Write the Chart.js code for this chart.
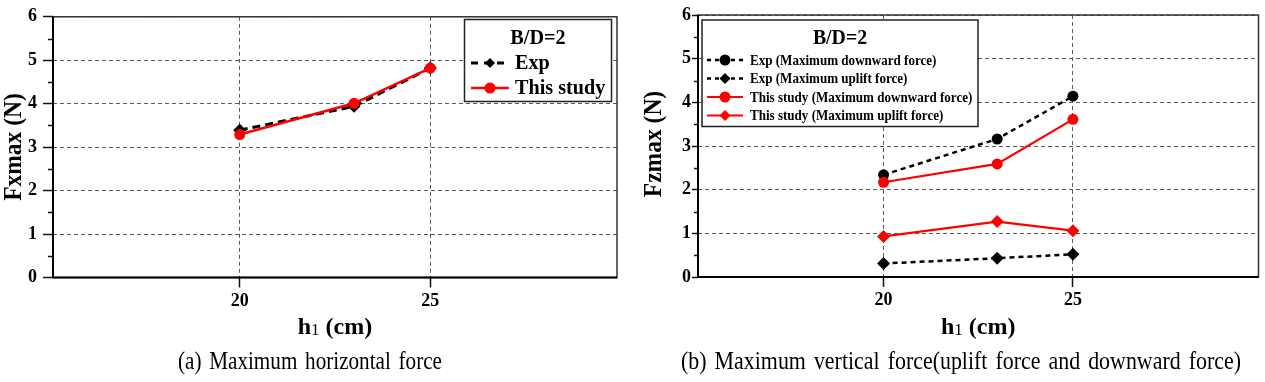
<!DOCTYPE html>
<html><head><meta charset="utf-8">
<script src="https://cdn.jsdelivr.net/npm/chart.js@4.4.0/dist/chart.umd.min.js"></script>
<style>
html,body{margin:0;padding:0;background:#fff;}
#wrap{position:relative;width:1265px;height:382px;overflow:hidden;background:#fff;}
.cv{position:absolute;top:0;}
.cap{position:absolute;top:345px;font-family:'Liberation Serif','Times New Roman',serif;font-size:26px;line-height:32px;word-spacing:3px;white-space:pre;color:#000;transform-origin:0 0;}
</style></head>
<body><div id="wrap">
<canvas id="c1" class="cv" width="640" height="382" style="left:0"></canvas>
<canvas id="c2" class="cv" width="625" height="382" style="left:640px"></canvas>
<div id="capA" class="cap"></div>
<div id="capB" class="cap"></div>
</div>
<script>
// ---------- data ----------
const hValues = [20, 23, 25];
const fxExp = [3.39, 3.94, 4.82];
const fxThisStudy = [3.29, 4.01, 4.82];
const fzExpDownward = [2.34, 3.16, 4.14];
const fzExpUplift = [0.31, 0.43, 0.52];
const fzThisDownward = [2.17, 2.59, 3.61];
const fzThisUplift = [0.93, 1.27, 1.06];
const xTickValues = [20, 25];
const yTickValues = [0, 1, 2, 3, 4, 5, 6];
const yMinorValues = [0.5, 1.5, 2.5, 3.5, 4.5, 5.5];
const labelsA = ['Exp', 'This study'];
const labelsB = ['Exp (Maximum downward force)', 'Exp (Maximum uplift force)',
                 'This study (Maximum downward force)', 'This study (Maximum uplift force)'];
const legendTitle = 'B/D=2';
const yTitleA = 'Fxmax (N)';
const yTitleB = 'Fzmax (N)';
const xTitleParts = ['h', '1', ' (cm)'];
const captionA = '(a) Maximum horizontal force';
const captionB = '(b) Maximum vertical force(uplift force and downward force)';

// ---------- helpers ----------
const SERIF = "'Liberation Serif','Times New Roman',serif";
const RED = '#ff0000';
const pts = ys => hValues.map((x, i) => ({x: x, y: ys[i]}));

function drawMarker(ctx, style, x, y, r, color) {
  ctx.beginPath();
  if (style === 'rectRot') {
    ctx.moveTo(x, y - r); ctx.lineTo(x + r, y); ctx.lineTo(x, y + r); ctx.lineTo(x - r, y); ctx.closePath();
  } else {
    ctx.arc(x, y, r, 0, Math.PI * 2);
  }
  ctx.fillStyle = color; ctx.fill();
}

function scaledText(ctx, text, x, y, sx, align) {
  ctx.save();
  ctx.translate(x, y); ctx.scale(sx, 1);
  ctx.textAlign = align; ctx.textBaseline = 'middle';
  ctx.fillText(text, 0, 0);
  ctx.restore();
}

const decor = {
  id: 'decor',
  afterDatasetsDraw(chart, args, o) {
    const ctx = chart.ctx, a = chart.chartArea, ys = chart.scales.y;
    ctx.save();
    ctx.setLineDash([]);
    ctx.strokeStyle = '#111'; ctx.lineWidth = 1.5;
    yMinorValues.forEach(v => {
      const p = Math.round(ys.getPixelForValue(v)) + 0.5;
      ctx.beginPath(); ctx.moveTo(a.left - o.minorLen, p); ctx.lineTo(a.left, p); ctx.stroke();
    });
    ctx.strokeStyle = '#333'; ctx.lineWidth = 1.5;
    ctx.strokeRect(a.left, a.top, a.right - a.left, a.bottom - a.top);
    ctx.strokeStyle = '#000'; ctx.lineWidth = 2;
    ctx.beginPath(); ctx.moveTo(a.left, a.top); ctx.lineTo(a.left, a.bottom); ctx.lineTo(a.right, a.bottom); ctx.stroke();
    ctx.restore();
  }
};

const boxLegend = {
  id: 'boxLegend',
  afterDraw(chart, args, o) {
    const ctx = chart.ctx; const [l, t, r, b] = o.box;
    ctx.save();
    ctx.fillStyle = '#fff'; ctx.fillRect(l, t, r - l, b - t);
    ctx.lineWidth = 1.5; ctx.strokeStyle = '#222'; ctx.setLineDash([]);
    ctx.strokeRect(l, t, r - l, b - t);
    ctx.fillStyle = '#000'; ctx.font = o.titleFont;
    scaledText(ctx, o.title, (l + r) / 2, o.titleY, o.titleSx, 'center');
    chart.data.datasets.forEach((ds, i) => {
      const y = o.rows[i];
      ctx.beginPath();
      ctx.setLineDash(o.dash[i]); ctx.lineWidth = ds.borderWidth; ctx.strokeStyle = ds.borderColor;
      ctx.moveTo(o.sample[0], y); ctx.lineTo(o.sample[1], y); ctx.stroke();
      ctx.setLineDash([]);
      drawMarker(ctx, ds.pointStyle, (o.sample[0] + o.sample[1]) / 2, y, o.markerR[i], ds.pointBackgroundColor);
      ctx.fillStyle = '#000'; ctx.font = o.font;
      scaledText(ctx, ds.label, o.textX, y + 1, o.sx, 'left');
    });
    ctx.restore();
  }
};

const texts = {
  id: 'texts',
  afterDraw(chart, args, o) {
    const ctx = chart.ctx, a = chart.chartArea;
    ctx.save();
    ctx.fillStyle = '#000';
    ctx.save();
    ctx.translate(o.yTitleX, o.yTitleY); ctx.rotate(-Math.PI / 2);
    ctx.font = 'bold 25px ' + SERIF; ctx.textAlign = 'center'; ctx.textBaseline = 'middle';
    ctx.scale(0.94, 1);
    ctx.fillText(o.yTitle, 0, 0);
    ctx.restore();
    const fBig = 'bold 24px ' + SERIF, fSub = '17px ' + SERIF;
    ctx.font = fBig; const w0 = ctx.measureText(xTitleParts[0]).width, w2 = ctx.measureText(xTitleParts[2]).width;
    ctx.font = fSub; const w1 = ctx.measureText(xTitleParts[1]).width;
    let x = (a.left + a.right) / 2 - (w0 + w1 + w2) / 2;
    const base = o.xTitleBase;
    ctx.textAlign = 'left'; ctx.textBaseline = 'alphabetic';
    ctx.font = fBig; ctx.fillText(xTitleParts[0], x, base); x += w0;
    ctx.font = fSub; ctx.fillText(xTitleParts[1], x, base + 1); x += w1;
    ctx.font = fBig; ctx.fillText(xTitleParts[2], x, base);
    ctx.restore();
  }
};

function scales(o) {
  const tickFont = {family: SERIF, size: 18, weight: 'bold'};
  return {
    x: {
      type: 'linear', min: 15.1, max: 29.9,
      afterBuildTicks: s => { s.ticks = xTickValues.map(v => ({value: v})); },
      afterFit: s => { s.height = o.xHeight; },
      grid: {color: '#5a5a5a', lineWidth: 1, drawTicks: true, tickLength: 10, tickColor: '#111', tickWidth: 1.5, tickBorderDash: []},
      border: {display: false, dash: [4, 3]},
      ticks: {font: tickFont, color: '#000', padding: 3, maxRotation: 0, autoSkip: false, callback: v => String(v)}
    },
    y: {
      type: 'linear', min: 0, max: 6,
      afterBuildTicks: s => { s.ticks = yTickValues.map(v => ({value: v})); },
      afterFit: s => { s.width = o.yWidth; },
      grid: {color: '#5a5a5a', lineWidth: 1, drawTicks: true, tickLength: o.yTick, tickColor: '#111', tickWidth: 1.5, tickBorderDash: []},
      border: {display: false, dash: [4, 3]},
      ticks: {font: tickFont, color: '#000', padding: o.yPad, callback: v => String(v)}
    }
  };
}

function line(label, data, color, dash, width, style, r, order) {
  return {label: label, data: data, borderColor: color, backgroundColor: color, borderDash: dash, borderWidth: width,
          pointStyle: style, pointRadius: r, pointBackgroundColor: color, pointBorderColor: color, pointBorderWidth: 0,
          showLine: true, tension: 0, order: order};
}

// ---------- chart A ----------
new Chart(document.getElementById('c1'), {
  type: 'scatter',
  data: {datasets: [
    line(labelsA[0], pts(fxExp), '#000', [8, 5], 3, 'rectRot', 6.5, 2),
    line(labelsA[1], pts(fxThisStudy), RED, [], 2.5, 'circle', 5.5, 1)
  ]},
  options: {
    responsive: false, animation: false, devicePixelRatio: 1, events: [],
    layout: {padding: {top: 15, right: 23, left: 0, bottom: 0}},
    scales: scales({xHeight: 104.5, yWidth: 53, yTick: 10, yPad: 6}),
    plugins: {
      legend: {display: false}, tooltip: {enabled: false},
      decor: {minorLen: 5},
      boxLegend: {box: [464.5, 19.5, 611.5, 101.5], title: legendTitle, titleFont: 'bold 22px ' + SERIF, titleSx: 0.92, titleY: 38,
                  rows: [63, 88], sample: [471, 509], textX: 515, font: 'bold 21px ' + SERIF, sx: 0.96,
                  dash: [[7, 6], []], markerR: [5, 5.5]},
      texts: {yTitle: yTitleA, yTitleX: 15, yTitleY: 147, xTitleBase: 334}
    }
  },
  plugins: [decor, boxLegend, texts]
});

// ---------- chart B ----------
new Chart(document.getElementById('c2'), {
  type: 'scatter',
  data: {datasets: [
    line(labelsB[0], pts(fzExpDownward), '#000', [5, 4], 2.5, 'circle', 5.5, 2),
    line(labelsB[1], pts(fzExpUplift), '#000', [5, 4], 2.5, 'rectRot', 6.5, 2),
    line(labelsB[2], pts(fzThisDownward), RED, [], 2.2, 'circle', 5.5, 1),
    line(labelsB[3], pts(fzThisUplift), RED, [], 2.2, 'rectRot', 6.5, 1)
  ]},
  options: {
    responsive: false, animation: false, devicePixelRatio: 1, events: [],
    layout: {padding: {top: 15, right: 4, left: 0, bottom: 0}},
    scales: scales({xHeight: 105, yWidth: 58, yTick: 6, yPad: 1}),
    plugins: {
      legend: {display: false}, tooltip: {enabled: false},
      decor: {minorLen: 4},
      boxLegend: {box: [62, 20, 338, 126.5], title: legendTitle, titleFont: 'bold 22px ' + SERIF, titleSx: 0.9, titleY: 38,
                  rows: [60, 78.5, 97, 115.5], sample: [67, 103], textX: 110, font: 'bold 14.5px ' + SERIF, sx: 0.9,
                  dash: [[4, 4], [4, 4], [], []], markerR: [5.5, 5.5, 5.5, 5.5]},
      texts: {yTitle: yTitleB, yTitleX: 15, yTitleY: 144, xTitleBase: 334}
    }
  },
  plugins: [decor, boxLegend, texts]
});

// ---------- captions ----------
function fitCaption(id, text, left, width) {
  const el = document.getElementById(id);
  el.textContent = text;
  el.style.left = left + 'px';
  el.style.transform = 'none';
  const w = el.getBoundingClientRect().width;
  el.style.transform = 'scaleX(' + (width / w) + ')';
}
function placeCaptions() {
  fitCaption('capA', captionA, 178, 264);
  fitCaption('capB', captionB, 681, 560);
}
placeCaptions();
if (document.fonts && document.fonts.ready) document.fonts.ready.then(placeCaptions);
</script>
</body></html>
